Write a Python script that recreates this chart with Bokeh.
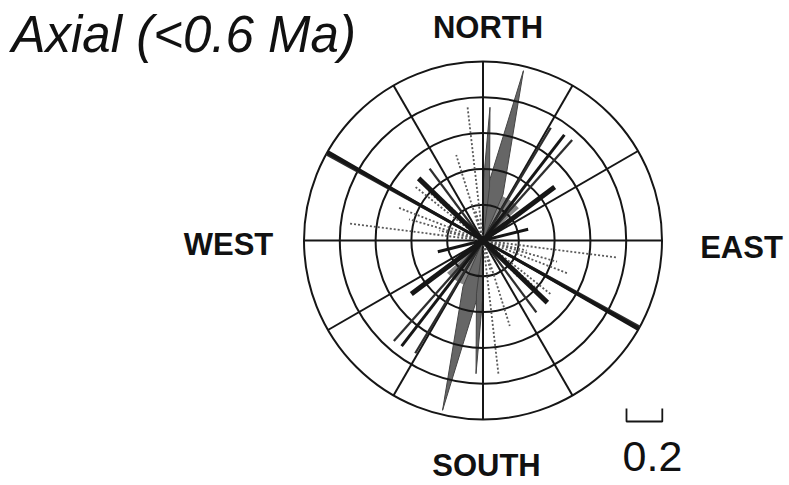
import numpy as np
from bokeh.plotting import figure
from bokeh.models import Range1d
from bokeh.core.properties import value
from bokeh.embed import file_html
from bokeh.resources import INLINE

# ---------------- data (azimuths in degrees clockwise from north, lengths in rose units) ----
ring_radii = [0.2, 0.4, 0.6, 0.8, 1.0]
spoke_az = [0, 30, 60, 90, 120, 150]
scale_bar_value = 0.2

# grey tapering petals (axial: drawn at az and az+180)
petal_az = [13.4, 3.0]
petal_len = [0.975, 0.745]
petal_base_len = [0.28, 0.30]
petal_base_lo = [4.0, 0.0]
petal_base_hi = [23.5, 7.0]

# grey bins near the centre
bin_lo = [20.0, 0.0]
bin_hi = [48.0, 8.0]
bin_len = [0.27, 0.28]

# thick black bars
thick_az = [53.2, 134.0]
thick_len = [0.50, 0.50]

# medium black bars
medium_az = [37.6, 76.0, 119.4]
medium_len = [0.745, 0.26, 1.0]

# thin dark-grey bars
thin_az = [31.0, 41.6, 143.4, 118.8]
thin_len = [0.735, 0.75, 0.50, 1.0]

# dotted (light) bars
dot_az = [97.2, 103.0, 106.0, 111.2, 128.4, 132.0, 136.0, 162.6, 166.0, 173.4]
dot_len = [0.75, 0.25, 0.43, 0.51, 0.49, 0.41, 0.28, 0.50, 0.18, 0.75]

title_text = "Axial (<0.6 Ma)"
compass_text = ["NORTH", "SOUTH", "WEST", "EAST"]
scale_text = "0.2"

# ---------------- geometry of the page ----------------
S = 179.0              # pixels per rose unit
CX, CY = 482.5, 240.0  # centre of the rose, in picture pixels
W, H = 789, 485


def pdx(px):
    return (px - CX) / S


def pdy(py):
    return (CY - py) / S


def tdy(py, size):
    # baseline correction for the svg text renderer
    return pdy(py - 0.35 * size)


def pol(az, r):
    a = np.radians(np.asarray(az, dtype=float))
    r = np.asarray(r, dtype=float)
    return r * np.sin(a), r * np.cos(a)


def axial(az, ln):
    az = list(az) + [a + 180.0 for a in az]
    ln = list(ln) + list(ln)
    return az, ln


p = figure(width=W, height=H, output_backend="svg", toolbar_location=None,
           x_range=Range1d(pdx(0), pdx(W)), y_range=Range1d(pdy(H), pdy(0)),
           x_axis_type=None, y_axis_type=None, min_border=0,
           min_border_left=0, min_border_right=0, min_border_top=0, min_border_bottom=0)
p.grid.visible = False
p.outline_line_color = None
p.background_fill_color = "white"
p.border_fill_color = "white"

FONT = value("Liberation Sans")
INK = "#161616"
GREY = "#666666"

# grey bins
lo = list(bin_lo) + [b + 180 for b in bin_lo]
hi = list(bin_hi) + [b + 180 for b in bin_hi]
ln = list(bin_len) * 2
n = len(ln)
p.wedge(x=[0] * n, y=[0] * n, radius=ln,
        start_angle=[90 - h for h in hi], end_angle=[90 - l for l in lo],
        start_angle_units="deg", end_angle_units="deg",
        fill_color="#858585", line_color=None)

# grey petals
xs, ys = [], []
for az, L, bl, blo, bhi in zip(petal_az, petal_len, petal_base_len, petal_base_lo, petal_base_hi):
    for off in (0.0, 180.0):
        pa = [0.0, blo + off, az + off, bhi + off]
        pr = [0.0, bl, L, bl]
        x, y = pol(pa, pr)
        xs.append(list(x))
        ys.append(list(y))
p.patches(xs=xs, ys=ys, fill_color=GREY, line_color="#444444", line_width=1.0)

# grid rings and spokes
p.circle(x=[0] * len(ring_radii), y=[0] * len(ring_radii), radius=ring_radii,
         fill_color=None, line_color=INK, line_width=2.0)
R = ring_radii[-1]
sx, sy = pol(spoke_az, [R] * len(spoke_az))
p.segment(x0=-sx, y0=-sy, x1=sx, y1=sy, line_color=INK, line_width=2.0)


def bars(az, lens, **kw):
    a, l = axial(az, lens)
    x, y = pol(a, l)
    p.segment(x0=[0] * len(a), y0=[0] * len(a), x1=x, y1=y, **kw)


bars(dot_az, dot_len, line_color="#5a5a5a", line_width=1.8, line_dash="2 2")
bars(thin_az, thin_len, line_color="#2e2e2e", line_width=2.3)
bars(medium_az, medium_len, line_color=INK, line_width=3.0)
bars(thick_az, thick_len, line_color=INK, line_width=5.0)

p.scatter(x=[0], y=[0], size=9, marker="square", fill_color=INK, line_color=None)

# texts
p.text(x=[pdx(11)], y=[tdy(52, 51)], text=[title_text], text_font=FONT, text_font_size="51px",
       text_font_style="italic", text_align="left", text_baseline="alphabetic", text_color="#111111")
cx = [pdx(487.5), pdx(486), pdx(228), pdx(741)]
cy = [tdy(38, 31), tdy(476, 31), tdy(255, 31), tdy(258, 31)]
p.text(x=cx, y=cy, text=compass_text, text_font=FONT, text_font_size="31px",
       text_font_style="bold", text_align="center", text_baseline="alphabetic", text_color="#111111")

# scale bar
bx0 = pdx(626)
bx1 = bx0 + scale_bar_value
p.line(x=[bx0, bx0, bx1, bx1], y=[pdy(408), pdy(421), pdy(421), pdy(408)],
       line_color=INK, line_width=1.8)
p.text(x=[pdx(652)], y=[tdy(471.5, 43)], text=[scale_text], text_font=FONT,
       text_font_size="43px", text_align="center", text_baseline="alphabetic", text_color="#111111")

open("out.html", "w").write(file_html(p, INLINE))
